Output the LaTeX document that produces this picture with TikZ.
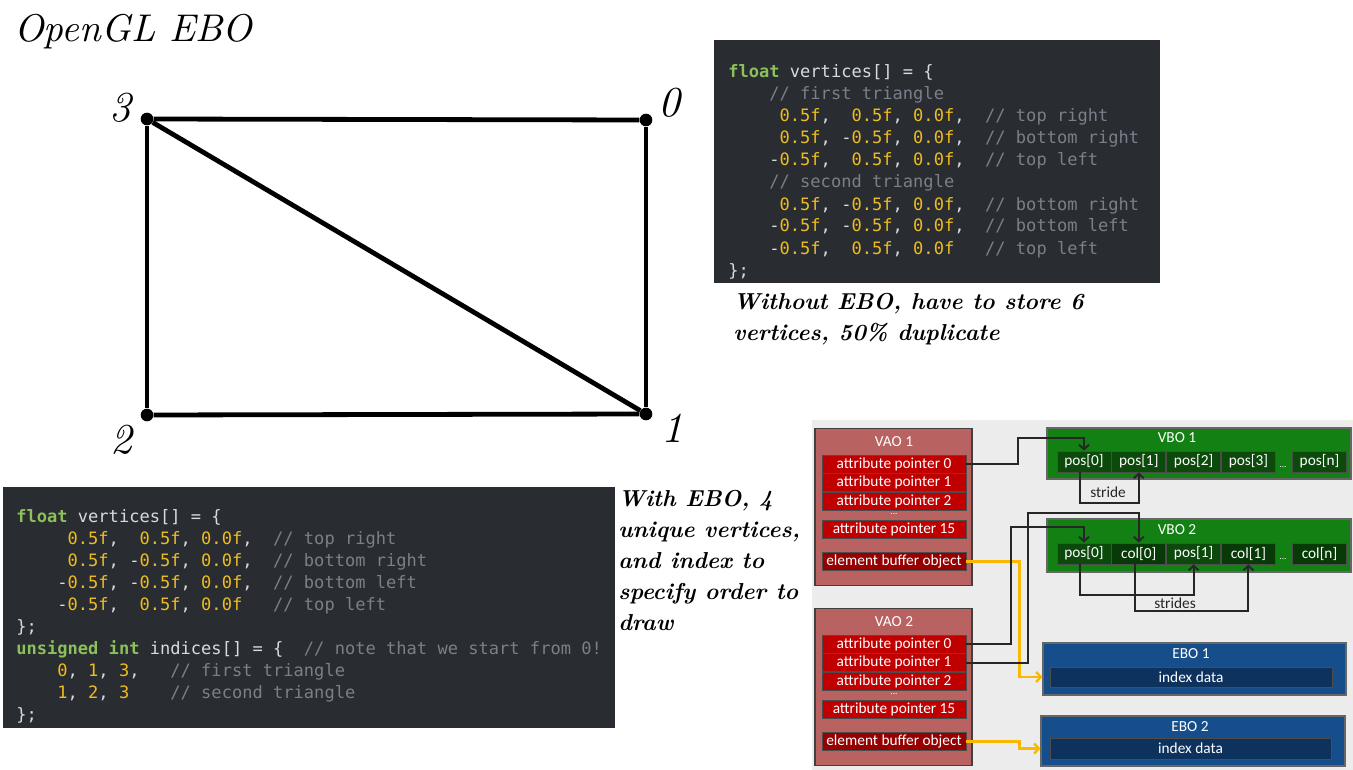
\documentclass[tikz,border=0pt]{standalone}
\usepackage{fontspec}
\usepackage{graphicx}
\newfontfamily\codefont{DejaVu Sans Mono}
\newfontfamily\diagfont{Carlito}
\usetikzlibrary{positioning,arrows.meta}
\definecolor{codebg}{RGB}{41,44,49}
\definecolor{codetext}{RGB}{215,218,224}
\definecolor{codekw}{RGB}{140,192,90}
\definecolor{codenum}{RGB}{238,188,32}
\definecolor{codecmt}{RGB}{122,128,138}
\definecolor{panelbg}{RGB}{236,236,236}
\definecolor{vaofill}{RGB}{184,98,98}
\definecolor{attrfill}{RGB}{192,0,0}
\definecolor{elemfill}{RGB}{150,0,0}
\definecolor{vbofill}{RGB}{18,128,18}
\definecolor{posfill}{RGB}{12,74,12}
\definecolor{colfill}{RGB}{8,58,8}
\definecolor{ebofill}{RGB}{22,78,140}
\definecolor{idxfill}{RGB}{14,50,94}
\definecolor{ebolink}{RGB}{250,185,0}
\newcommand{\ckw}[1]{\textcolor{codekw}{\bfseries #1}}
\newcommand{\cnum}[1]{\textcolor{codenum}{#1}}
\newcommand{\ccmt}[1]{\textcolor{codecmt}{#1}}
\newcommand{\scaledit}[2]{\scalebox{#1}{\itshape #2}}
\newcommand{\diagtext}{\diagfont\fontsize{11.5}{13}\selectfont}
\tikzset{
	codeline/.style={anchor=base west,inner sep=0pt,text=codetext,
		font=\codefont\fontsize{12.8}{15}\selectfont\frenchspacing},
	note/.style={anchor=north west,align=left,inner sep=0pt,
		font=\bfseries\itshape\fontsize{17.3}{23.25}\selectfont},
	heading/.style={anchor=base west,inner sep=0pt,
		font=\fontsize{10}{12}\selectfont},
	corner/.style={circle,fill=black,inner sep=0pt,minimum size=9.5pt},
	quadline/.style={line width=3.6pt},
	num/.style={inner sep=0pt,font=\fontsize{10}{12}\selectfont},
	vao/.style={fill=vaofill,draw=black!75,line width=0.8pt,inner sep=0pt,
		minimum width=117.75pt,minimum height=117.75pt},
	attr/.style={fill=attrfill,draw=black!70,line width=0.6pt,text=white,
		font=\diagtext,inner sep=0pt,minimum width=108pt,minimum height=13.5pt},
	elem/.style={attr,fill=elemfill},
	boxtitle/.style={text=white,font=\diagtext,inner sep=0pt},
	gapdots/.style={text=white,font=\diagfont\fontsize{7}{7}\selectfont,inner sep=0pt},
	vbo/.style={fill=vbofill,draw=black!60,line width=0.8pt,inner sep=0pt,
		minimum width=228pt},
	cell/.style={fill=posfill,draw=black!70,line width=0.6pt,text=white,
		font=\diagtext,inner sep=0pt,minimum width=40.5pt,minimum height=15.75pt},
	colcell/.style={cell,fill=colfill},
	ebo/.style={fill=ebofill,draw=black!60,line width=0.8pt,inner sep=0pt},
	idx/.style={fill=idxfill,draw=black!70,line width=0.6pt,text=white,
		font=\diagtext,inner sep=0pt,minimum height=15pt},
	link/.style={draw=black!85,line width=1.4pt,
		-{Straight Barb[length=3.5pt,width=7.5pt]}},
	ylink/.style={link,draw=ebolink,line width=1.8pt},
	plainlabel/.style={text=black!85,font=\diagtext,inner sep=0pt}
}

\begin{document}
\begin{tikzpicture}[x=0.75pt,y=-0.75pt]
	\useasboundingbox (0,0) rectangle (1353,770);
	
	% quad made of two triangles
	\node[heading] (title) at (14,42) {\scaledit{2.9}{OpenGL EBO}};
	\node[corner] (v3) at (147,119) {};
	\node[corner] (v0) at (646,120) {};
	\node[corner] (v2) at (147,415) {};
	\node[corner] (v1) at (646,414) {};
	\node[num] (n3) at (120,108) {\scaledit{3.2}{3}};
	\node[num] (n0) at (669,103) {\scaledit{3.2}{0}};
	\node[num] (n2) at (121,440) {\scaledit{3.2}{2}};
	\node[num] (n1) at (672,428) {\scaledit{3.2}{1}};
	
	\draw[quadline] (v3) -- (v0);
	\draw[quadline] (v0) -- (v1);
	\draw[quadline] (v1) -- (v2);
	\draw[quadline] (v2) -- (v3);
	\draw[quadline] (v3) -- (v1);
	
	% code without EBO
	\fill[codebg] (714,40) rectangle (1160,283);
	\foreach \ln [count=\i from 0] in {
		{\ckw{float} vertices[] = \{},
		{~~~~\ccmt{// first triangle}},
		{~~~~~\cnum{0.5f},~~\cnum{0.5f}, \cnum{0.0f},~~\ccmt{// top right}},
		{~~~~~\cnum{0.5f}, -\cnum{0.5f}, \cnum{0.0f},~~\ccmt{// bottom right}},
		{~~~~-\cnum{0.5f},~~\cnum{0.5f}, \cnum{0.0f},~~\ccmt{// top left}},
		{~~~~\ccmt{// second triangle}},
		{~~~~~\cnum{0.5f}, -\cnum{0.5f}, \cnum{0.0f},~~\ccmt{// bottom right}},
		{~~~~-\cnum{0.5f}, -\cnum{0.5f}, \cnum{0.0f},~~\ccmt{// bottom left}},
		{~~~~-\cnum{0.5f},~~\cnum{0.5f}, \cnum{0.0f}~~~\ccmt{// top left}},
		{\};}}
	\node[codeline] (plain\i) at (728,78+22*\i) {\ln};
	\node[note] (without) at (733,293) {Without EBO, have to store 6\\vertices, 50\% duplicate};
	
	% code with EBO
	\fill[codebg] (3,487) rectangle (615,728);
	\foreach \ln [count=\i from 0] in {
		{\ckw{float} vertices[] = \{},
		{~~~~~\cnum{0.5f},~~\cnum{0.5f}, \cnum{0.0f},~~\ccmt{// top right}},
		{~~~~~\cnum{0.5f}, -\cnum{0.5f}, \cnum{0.0f},~~\ccmt{// bottom right}},
		{~~~~-\cnum{0.5f}, -\cnum{0.5f}, \cnum{0.0f},~~\ccmt{// bottom left}},
		{~~~~-\cnum{0.5f},~~\cnum{0.5f}, \cnum{0.0f}~~~\ccmt{// top left}},
		{\};},
		{\ckw{unsigned} \ckw{int} indices[] = \{~~\ccmt{// note that we start from 0!}},
		{~~~~\cnum{0}, \cnum{1}, \cnum{3},~~~\ccmt{// first triangle}},
		{~~~~\cnum{1}, \cnum{2}, \cnum{3}~~~~\ccmt{// second triangle}},
		{\};}}
	\node[codeline] (indexed\i) at (16,522+22*\i) {\ln};
	\node[note] (with) at (618,490) {With EBO, 4\\unique vertices,\\and index to\\specify order to\\draw};
	
	% VAO / VBO / EBO layout
	\fill[panelbg] (812,420) rectangle (1353,770);
	\foreach \k/\top in {1/428,2/608} {
		\node[vao,anchor=north] (vao\k) at (893.5,\top) {};
		\node[boxtitle] (vao\k t) at (894,\top+14) {VAO \k};
		\node[attr] (vao\k p0) at (894,\top+36) {attribute pointer 0};
		\node[attr,below=0pt of vao\k p0] (vao\k p1) {attribute pointer 1};
		\node[attr,below=0pt of vao\k p1] (vao\k p2) {attribute pointer 2};
		\node[gapdots] (vao\k d) at (894,\top+86) {...};
		\node[attr] (vao\k p15) at (894,\top+101) {attribute pointer 15};
		\node[elem] (vao\k eb) at (894,\top+133.5) {element buffer object};
	}
	
	\node[vbo,minimum height=38.25pt] (vbo1) at (1199,453.5) {};
	\node[boxtitle] (vbo1t) at (1177,438) {VBO 1};
	\node[cell] (vbo1c0) at (1084,461.5) {pos[0]};
	\node[cell,right=0pt of vbo1c0] (vbo1c1) {pos[1]};
	\node[cell,right=0pt of vbo1c1] (vbo1c2) {pos[2]};
	\node[cell,right=0pt of vbo1c2] (vbo1c3) {pos[3]};
	\node[gapdots] (vbo1d) at (1283,467) {...};
	\node[cell] (vbo1cn) at (1319.5,461.5) {pos[n]};
	
	\node[vbo,minimum height=39.75pt] (vbo2) at (1199,545.5) {};
	\node[boxtitle] (vbo2t) at (1177,530) {VBO 2};
	\node[cell] (vbo2c0) at (1084,553.5) {pos[0]};
	\node[colcell,right=0pt of vbo2c0] (vbo2c1) {col[0]};
	\node[cell,right=0pt of vbo2c1] (vbo2c2) {pos[1]};
	\node[colcell,right=0pt of vbo2c2] (vbo2c3) {col[1]};
	\node[gapdots] (vbo2d) at (1283,559) {...};
	\node[colcell] (vbo2cn) at (1319.5,553.5) {col[n]};
	
	\node[ebo,minimum width=227.25pt,minimum height=39pt] (ebo1) at (1194.5,669) {};
	\node[boxtitle] (ebo1t) at (1191,654) {EBO 1};
	\node[idx,minimum width=211.5pt] (ebo1idx) at (1191,677) {index data};
	\node[ebo,minimum width=228pt,minimum height=37.5pt] (ebo2) at (1193,741) {};
	\node[boxtitle] (ebo2t) at (1190,727) {EBO 2};
	\node[idx,minimum width=210.75pt,minimum height=15.75pt] (ebo2idx) at (1190.5,748.5) {index data};
	
	\draw[ylink] (vao1eb.east) -- ++(53,0) |- (ebo1.west |- ebo1idx);
	\draw[ylink] (vao2eb.east) -- ++(53,0) |- (ebo2.west |- ebo2idx);
	
	\draw[link] (vao1p0.east) -| (1018,438) -| (vbo1c0.north);
	\draw[link] ([xshift=-3pt]vbo1c0.south) -- ++(0,31) -| (vbo1c1.south);
	\node[plainlabel] (stride) at (1108,492) {stride};
	
	\draw[link] (vao2p0.east) -| (1011,527) -| (vbo2c0.north);
	\draw[link] (vao2p1.east) -| (1028,513) -| (vbo2c1.north);
	\draw[link] ([xshift=-3pt]vbo2c0.south) -- ++(0,31) -| (vbo2c2.south);
	\draw[link] ([xshift=-3pt]vbo2c1.south) -- ++(0,47) -| (vbo2c3.south);
	\node[plainlabel] (strides) at (1175,603) {strides};
\end{tikzpicture}
\end{document}
